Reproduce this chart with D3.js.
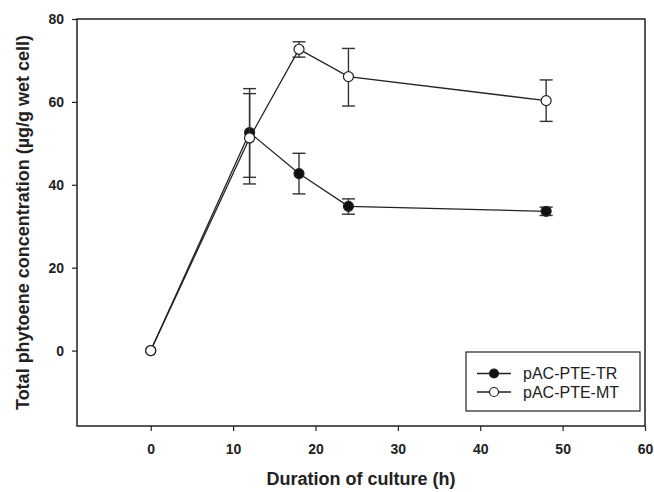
<!DOCTYPE html>
<html lang="en">
<head>
<meta charset="UTF-8">
<title>Total phytoene concentration</title>
<script src="https://d3js.org/d3.v7.min.js"></script>
<style>
body{margin:0;background:#fff;}
svg{display:block;font-family:"Liberation Sans",Arial,sans-serif;}
.axis-title{font-size:18px;font-weight:bold;fill:#222;}
.legend text{font-size:16px;fill:#222;}
</style>
</head>
<body>
<script>
// culture time (h)
var hours=[0,12,18,24,48];
// pAC-PTE-TR: mean, err low, err high
var trMean=[0,52.6,42.7,34.8,33.6];
var trLow=[0,40.2,37.8,32.9,32.6];
var trHigh=[0,63.2,47.6,36.6,34.6];
// pAC-PTE-MT
var mtMean=[0,51.3,72.7,66.1,60.3];
var mtLow=[0,41.8,70.8,59.0,55.3];
var mtHigh=[0,62.0,74.5,72.9,65.3];
var xTicks=[0,10,20,30,40,50,60];
var yTicks=[0,20,40,60,80];

var W=654,H=492;
var pL=77,pR=645,pT=19,pB=426;

var svg=d3.select("body").append("svg").attr("width",W).attr("height",H);

var x=d3.scaleLinear().domain([-8.95,60]).range([pL,pR]);
var y=d3.scaleLinear().domain([-18.2,80]).range([pB,pT]);

// frame
svg.append("rect").attr("x",pL).attr("y",pT)
  .attr("width",pR-pL).attr("height",pB-pT)
  .attr("fill","none").attr("stroke","#222").attr("stroke-width",1.5);

var xa=svg.append("g").attr("transform","translate(0,"+pB+")")
  .call(d3.axisBottom(x).tickValues(xTicks).tickSize(5).tickPadding(13).tickFormat(d3.format("d")));
var ya=svg.append("g").attr("transform","translate("+pL+",0)")
  .call(d3.axisLeft(y).tickValues(yTicks).tickSize(5).tickPadding(8).tickFormat(d3.format("d")));
[xa,ya].forEach(function(a){
  a.attr("font-family",null).attr("font-size",null);
  a.select(".domain").remove();
  a.selectAll(".tick line").attr("stroke","#222").attr("stroke-width",1.2);
  a.selectAll(".tick text").style("font-size","14px").style("font-weight","bold").attr("fill","#222");
});

svg.append("text").attr("class","axis-title")
  .attr("x",(pL+pR)/2).attr("y",485).attr("text-anchor","middle")
  .text("Duration of culture (h)");
svg.append("text").attr("class","axis-title")
  .attr("transform","translate(29,"+((pT+pB)/2)+") rotate(-90)")
  .attr("text-anchor","middle")
  .text("Total phytoene concentration (\u00b5g/g wet cell)");

function series(mean,low,high,fill){
  var pts=hours.map(function(h,i){return {h:h,m:mean[i],lo:low[i],hi:high[i]};});
  var g=svg.append("g");
  var line=d3.line().x(function(d){return x(d.h);}).y(function(d){return y(d.m);});
  g.append("path").datum(pts).attr("d",line)
    .attr("fill","none").attr("stroke","#222").attr("stroke-width",1.3);
  var eb=g.selectAll(".eb").data(pts.filter(function(d){return d.hi>d.lo;})).enter().append("g");
  eb.append("line").attr("x1",function(d){return x(d.h);}).attr("x2",function(d){return x(d.h);})
    .attr("y1",function(d){return y(d.lo);}).attr("y2",function(d){return y(d.hi);});
  eb.append("line").attr("x1",function(d){return x(d.h)-6.5;}).attr("x2",function(d){return x(d.h)+6.5;})
    .attr("y1",function(d){return y(d.lo);}).attr("y2",function(d){return y(d.lo);});
  eb.append("line").attr("x1",function(d){return x(d.h)-6.5;}).attr("x2",function(d){return x(d.h)+6.5;})
    .attr("y1",function(d){return y(d.hi);}).attr("y2",function(d){return y(d.hi);});
  eb.selectAll("line").attr("stroke","#333").attr("stroke-width",1.4);
  g.selectAll("circle").data(pts).enter().append("circle")
    .attr("cx",function(d){return x(d.h);}).attr("cy",function(d){return y(d.m);})
    .attr("r",5).attr("fill",fill).attr("stroke","#222").attr("stroke-width",1.2);
}
series(trMean,trLow,trHigh,"#111");
series(mtMean,mtLow,mtHigh,"#fff");

// legend
var lg=svg.append("g").attr("class","legend");
lg.append("rect").attr("x",466).attr("y",352).attr("width",174).attr("height",59)
  .attr("fill","#fff").attr("stroke","#222").attr("stroke-width",1.2);
var names=["pAC-PTE-TR","pAC-PTE-MT"],fills=["#111","#fff"];
names.forEach(function(n,i){
  var yy=373.5+i*18.5;
  lg.append("line").attr("x1",477).attr("x2",511).attr("y1",yy).attr("y2",yy)
    .attr("stroke","#222").attr("stroke-width",1.3);
  lg.append("circle").attr("cx",494).attr("cy",yy).attr("r",4.5)
    .attr("fill",fills[i]).attr("stroke","#222").attr("stroke-width",1.2);
  lg.append("text").attr("x",523).attr("y",yy+5.5).text(n);
});
</script>
</body>
</html>
